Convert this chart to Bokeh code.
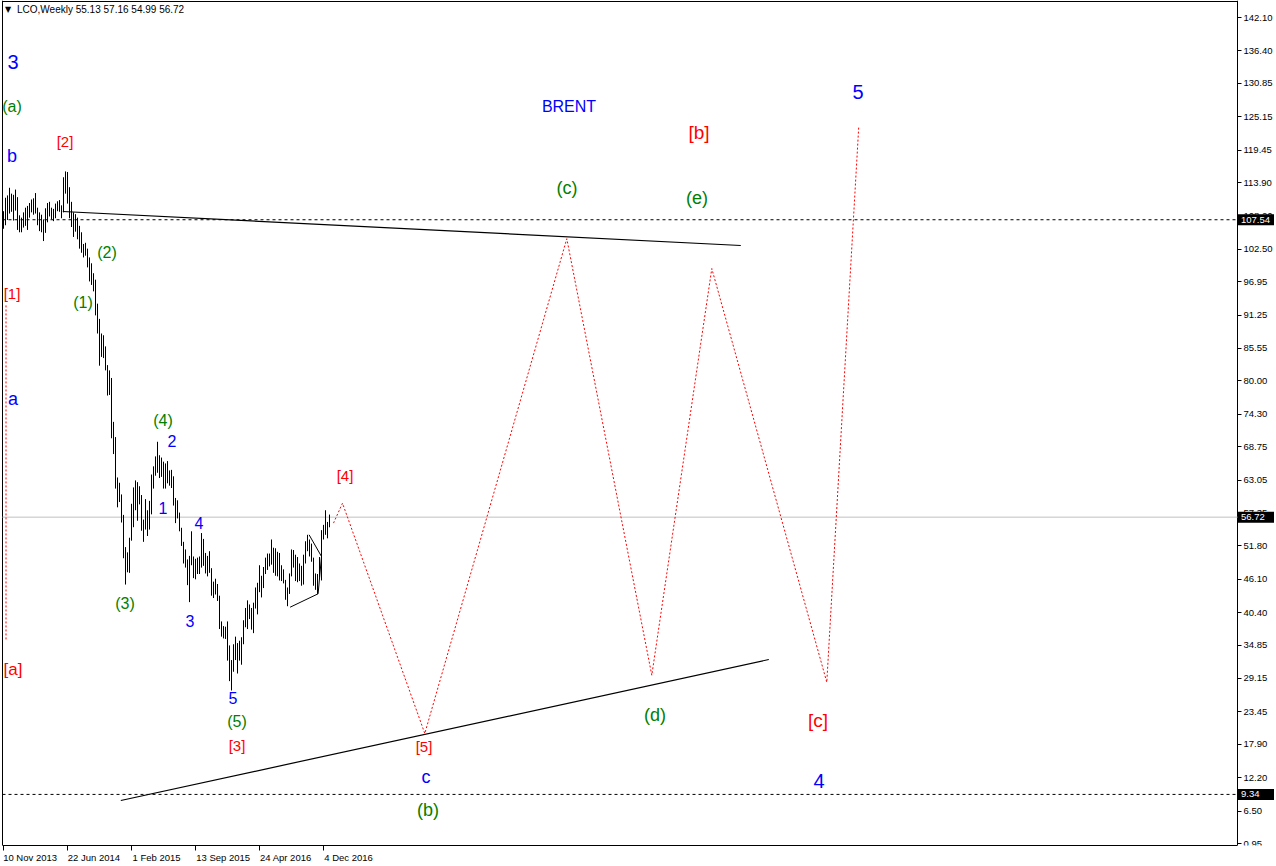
from bokeh.plotting import figure
from bokeh.models import (ColumnDataSource, Range1d, FixedTicker, PrintfTickFormatter,
                          LinearAxis, Label)
from bokeh.core.properties import value
from bokeh.embed import file_html
from bokeh.resources import INLINE

# ---------------- data ----------------
# weekly bars of LCO (Brent), week 0 = 10 Nov 2013
highs = [
    109.0, 111.3, 111.7, 113.0, 112.0, 111.8, 112.7, 111.4, 108.3, 107.9,
    108.8, 109.6, 109.9, 110.4, 111.0, 111.2, 112.1, 109.6, 108.8, 108.4,
    107.6, 109.5, 110.4, 110.6, 109.6, 109.4, 110.3, 110.7, 110.9, 110.0,
    114.8, 115.8, 115.7, 113.1, 110.6, 108.8, 108.5, 107.9, 106.5, 105.4,
    103.4, 103.6, 102.6, 101.1, 100.1, 98.4, 97.3, 93.2, 90.6, 88.1,
    87.8, 85.9, 82.7, 81.8, 80.5, 73.0, 70.4, 63.5, 62.6, 60.6,
    57.1, 51.6, 50.7, 53.2, 59.0, 61.8, 63.0, 62.7, 62.0, 60.5,
    56.3, 59.8, 57.9, 59.5, 64.0, 65.4, 67.1, 69.6, 67.3, 66.9,
    66.2, 65.9, 66.3, 64.7, 64.8, 63.7, 60.0, 59.6, 57.5, 54.9,
    52.5, 51.2, 49.5, 50.1, 54.3, 50.0, 49.6, 49.8, 50.0, 54.0,
    53.0, 50.6, 50.1, 50.9, 48.0, 45.7, 46.2, 45.3, 43.3, 38.9,
    38.1, 38.0, 38.9, 34.8, 32.3, 35.0, 36.3, 35.2, 35.6, 36.2,
    39.1, 41.2, 42.5, 41.8, 41.2, 42.1, 44.7, 45.5, 48.5, 46.7,
    48.2, 49.8, 50.5, 50.5, 52.9, 51.5, 51.4, 50.8, 50.6, 48.5,
    47.8, 46.0, 44.7, 47.1, 51.2, 51.1, 50.3, 49.9, 48.8, 48.4,
    50.3, 52.6, 53.7, 52.9, 52.2, 49.8, 47.1, 47.0, 49.9, 54.5,
    55.4, 57.9, 55.9, 57.16,
]
lows = [
    106.0, 106.6, 107.5, 108.6, 108.9, 107.4, 109.1, 105.8, 105.4, 105.4,
    106.2, 106.5, 105.8, 107.9, 108.8, 108.4, 108.6, 106.6, 105.6, 105.4,
    103.9, 105.3, 107.1, 108.1, 107.6, 107.3, 107.8, 109.0, 108.9, 107.8,
    108.8, 112.0, 110.3, 107.8, 106.3, 104.6, 105.5, 104.2, 102.6, 101.9,
    101.1, 101.4, 99.4, 97.0, 96.4, 95.3, 91.2, 88.1, 82.6, 84.1,
    83.9, 81.8, 77.5, 77.6, 70.2, 67.5, 61.6, 58.4, 59.3, 55.8,
    49.7, 45.2, 47.3, 47.2, 52.7, 55.0, 57.9, 56.1, 58.9, 54.4,
    52.5, 54.6, 53.5, 54.6, 57.2, 61.6, 63.8, 64.3, 63.4, 63.6,
    61.6, 61.6, 62.5, 62.1, 61.7, 58.7, 55.7, 56.5, 54.3, 51.8,
    48.8, 48.1, 45.1, 42.2, 48.5, 46.3, 46.1, 47.0, 47.0, 48.1,
    48.4, 47.1, 46.6, 47.2, 43.3, 42.9, 43.5, 42.4, 37.6, 36.3,
    36.0, 35.9, 32.2, 28.7, 27.1, 30.3, 32.3, 30.0, 32.2, 31.5,
    35.0, 37.9, 37.6, 39.3, 37.5, 36.9, 41.1, 40.1, 43.9, 43.0,
    44.6, 47.0, 47.7, 48.3, 48.6, 47.2, 46.7, 46.6, 45.9, 45.8,
    45.4, 42.6, 41.5, 43.6, 46.6, 48.1, 45.8, 45.6, 45.8, 45.0,
    45.2, 48.8, 50.9, 50.0, 49.1, 45.0, 44.3, 43.6, 46.4, 45.9,
    52.9, 53.7, 53.1, 54.99,
]
weeks = list(range(len(highs)))

date_tick_weeks = [0, 32, 64, 96, 128, 160]
date_tick_labels = ["10 Nov 2013", "22 Jun 2014", "1 Feb 2015", "13 Sep 2015",
                    "24 Apr 2016", "4 Dec 2016"]
price_ticks = [142.10, 136.40, 130.85, 125.15, 119.45, 113.90, 108.20, 102.50, 96.95,
               91.25, 85.55, 80.00, 74.30, 68.75, 63.05, 57.35, 51.80, 46.10, 40.40,
               34.85, 29.15, 23.45, 17.90, 12.20, 6.50, 0.95]
level_prices = [107.54, 9.34]
last_close = 56.72
header_text = "LCO,Weekly  55.13 57.16 54.99 56.72"

# projected wave path (red dotted)
proj_weeks = [165, 169.5, 210.65, 281.65, 324.15, 354.15, 411.65, 427.65]
proj_prices = [55.7, 59.1, 19.75, 104.3, 29.7, 99.2, 28.5, 123.6]

# trend lines
upper_tl_weeks = [29.65, 368.65]
upper_tl_prices = [108.95, 103.14]
lower_tl_weeks = [58.65, 382.65]
lower_tl_prices = [8.30, 32.39]
tri_weeks = [152.8, 159.0, 157.3, 143.3]
tri_prices = [53.70, 50.0, 43.62, 41.33]
left_marker_weeks = [1.25, 1.25]
left_marker_prices = [92.9, 35.6]

# wave labels
wave_text = ["3", "(a)", "b", "[2]", "(2)", "[1]", "(1)", "a", "(4)", "2", "1", "4",
             "[4]", "(3)", "3", "[a]", "5", "(5)", "[3]", "[5]", "c", "(b)", "BRENT",
             "(c)", "[b]", "(e)", "(d)", "[c]", "4", "5"]
wave_week = [4.75, 4.25, 4.25, 30.75, 51.75, 4.25, 39.75, 4.75, 79.75, 84.25, 79.75, 97.75,
             170.75, 60.75, 93.25, 4.75, 114.75, 116.75, 116.75, 210.25, 211.25, 212.25,
             282.75, 281.75, 347.75, 346.75, 325.75, 407.25, 407.75, 427.25]
wave_price = [134.58, 126.89, 118.35, 120.91, 101.94, 94.94, 93.40, 76.99, 73.23, 69.65,
              58.20, 55.80, 63.84, 41.96, 38.89, 30.68, 25.73, 21.80, 17.70, 17.53,
              12.40, 6.76, 126.89, 112.88, 122.45, 111.34, 22.99, 21.97, 11.55, 129.45]

# ---------------- styles / layout ----------------
BLUE, GREEN, RED = "#0000ff", "#008000", "#ff0000"
wave_color = [BLUE, GREEN, BLUE, RED, GREEN, RED, GREEN, BLUE, GREEN, BLUE, BLUE, BLUE,
              RED, GREEN, BLUE, RED, BLUE, GREEN, RED, RED, BLUE, GREEN, BLUE,
              GREEN, RED, GREEN, GREEN, RED, BLUE, BLUE]
wave_size = ["20px", "16px", "18px", "15px", "16px", "15px", "16px", "18px", "16px", "16px",
             "16px", "16px", "15px", "16px", "16px", "17px", "16px", "16px", "15px", "15px",
             "18px", "18px", "16px", "18px", "19px", "18px", "18px", "19px", "20px", "20px"]

FONT = "Liberation Sans"
PX_PER_WEEK = 2.0
PX_PER_PRICE = 5.852
FRAME_W, FRAME_H = 1276, 845
X0 = -1.5
X1 = X0 + FRAME_W / PX_PER_WEEK
Y0 = 0.61
Y1 = Y0 + FRAME_H / PX_PER_PRICE
X_LEFT = -0.5          # left border of the chart area
X_AXIS = 617.0         # price scale position
Y_TOP = Y1 - 1.0 / PX_PER_PRICE

p = figure(frame_width=FRAME_W, frame_height=FRAME_H,
           x_range=Range1d(X0, X1), y_range=Range1d(Y0, Y1),
           x_axis_location=None, y_axis_location=None,
           output_backend="svg", toolbar_location=None, min_border=0)
p.background_fill_color = "white"
p.border_fill_color = "white"
p.outline_line_color = None
p.grid.visible = False

# price scale (drawn at the chart's right edge)
ya = LinearAxis(ticker=FixedTicker(ticks=price_ticks),
                formatter=PrintfTickFormatter(format="%.2f"),
                fixed_location=X_AXIS, level="underlay")
ya.major_tick_in = 0
ya.major_tick_out = 4
ya.minor_tick_line_color = None
ya.axis_line_color = "black"
ya.major_tick_line_color = "black"
ya.major_label_standoff = 2
ya.major_label_text_font = FONT
ya.major_label_text_font_size = "9.5px"
ya.major_label_text_color = "black"
p.add_layout(ya, "right")

# time axis: labels start at their tick (centered text padded on the left)
NBSP = "\u00a0"
label_pad = [1, 20, 19, 21, 20, 19]
xa = LinearAxis(ticker=FixedTicker(ticks=date_tick_weeks), bounds=(X_LEFT, X_AXIS),
                major_label_overrides={w: NBSP * n + t for w, n, t in
                                       zip(date_tick_weeks, label_pad, date_tick_labels)})
xa.major_tick_in = 0
xa.major_tick_out = 5
xa.minor_tick_line_color = None
xa.axis_line_color = "black"
xa.major_tick_line_color = "black"
xa.major_label_standoff = 1
xa.major_label_text_font = FONT
xa.major_label_text_font_size = "9.5px"
xa.major_label_text_color = "black"
p.add_layout(xa, "below")

# chart border (left and top)
p.line([X_LEFT, X_LEFT], [Y0, Y1], line_color="black", line_width=1)
p.line([X_LEFT, X_AXIS], [Y_TOP, Y_TOP], line_color="black", line_width=1)

# horizontal levels
p.segment(x0=[X_LEFT, X_LEFT], x1=[X_AXIS, X_AXIS], y0=level_prices, y1=level_prices,
          line_color="black", line_dash="3 3", line_width=1)
p.segment(x0=[X_LEFT], x1=[X_AXIS], y0=[last_close], y1=[last_close],
          line_color="#c0c0c0", line_width=1)

# bars
src = ColumnDataSource(dict(week=weeks, high=highs, low=lows))
p.segment(x0="week", y0="low", x1="week", y1="high", source=src,
          line_color="black", line_width=1)

# trend lines
p.line(upper_tl_weeks, upper_tl_prices, line_color="black", line_width=1.2)
p.line(lower_tl_weeks, lower_tl_prices, line_color="black", line_width=1.2)
p.line(tri_weeks, tri_prices, line_color="black", line_width=1)

# projections
p.line(proj_weeks, proj_prices, line_color=RED, line_width=1, line_dash="2 2")
p.line(left_marker_weeks, left_marker_prices, line_color=RED, line_width=1, line_dash="2 2")

# wave labels
wsrc = ColumnDataSource(dict(x=wave_week, y=wave_price, text=wave_text,
                             color=wave_color, size=wave_size))
p.text(x="x", y="y", text="text", source=wsrc, text_color="color",
       text_font_size="size", text_font=value(FONT),
       text_align="center", text_baseline="middle")

# header
p.add_layout(Label(x=0.75, y=Y1 - 9 / PX_PER_PRICE, text="\u25bc", text_font="DejaVu Sans",
                   text_font_size="8px", text_color="black", text_baseline="middle"))
p.add_layout(Label(x=6.75, y=Y1 - 9 / PX_PER_PRICE, text=header_text, text_font=FONT,
                   text_font_size="10px", text_color="black", text_baseline="middle"))

# highlighted prices on the scale
box_levels = level_prices + [last_close]
box_text = ["%.2f" % v for v in box_levels]
BOX_CENTER = X_AXIS + 18.5 / PX_PER_WEEK
BOX_TEXT_X = X_AXIS + 3.5 / PX_PER_WEEK
p.rect(x=[BOX_CENTER] * len(box_levels), y=box_levels, width=36, height=11,
       width_units="screen", height_units="screen", fill_color="black", line_color=None)
p.text(x=[BOX_TEXT_X] * len(box_levels), y=box_levels, text=box_text,
       text_color="white", text_font=value(FONT), text_font_size="9.5px",
       text_align="left", text_baseline="middle")

open("out.html", "w").write(file_html(p, INLINE))
